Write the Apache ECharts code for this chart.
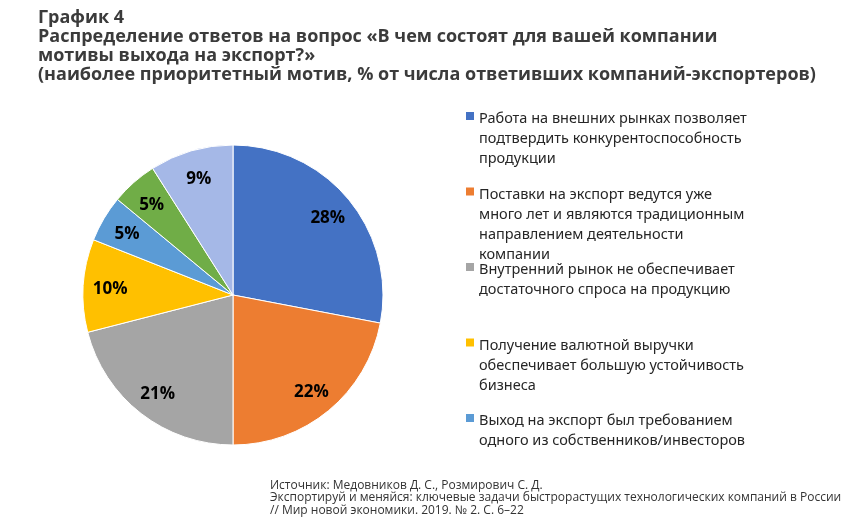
<!DOCTYPE html>
<html>
<head>
<meta charset="utf-8">
<script src="https://cdn.jsdelivr.net/npm/echarts@6/dist/echarts.min.js"></script>
<style>
  html, body { margin: 0; padding: 0; background: #fff; }
  #chart { width: 850px; height: 523px; }
</style>
</head>
<body>
<div id="chart"></div>
<script>
// shares of companies, %, clockwise from 12 o'clock
const motives = [
  'Работа на внешних рынках позволяет\nподтвердить конкурентоспособность\nпродукции',
  'Поставки на экспорт ведутся уже\nмного лет и являются традиционным\nнаправлением деятельности\nкомпании',
  'Внутренний рынок не обеспечивает\nдостаточного спроса на продукцию',
  'Получение валютной выручки\nобеспечивает большую устойчивость\nбизнеса',
  'Выход на экспорт был требованием\nодного из собственников/инвесторов',
  'Прочий мотив 1',
  'Прочий мотив 2'
];
const shares = [28, 22, 21, 10, 5, 5, 9];
const colors = ['#4472C4', '#ED7D31', '#A5A5A5', '#FFC000', '#5B9BD5', '#70AD47', '#A5B8E7'];
const legendShown = 5; // excel cut the legend after five entries

const titleText = 'График 4\nРаспределение ответов на вопрос «В чем состоят для вашей компании\nмотивы выхода на экспорт?»\n(наиболее приоритетный мотив, % от числа ответивших компаний-экспортеров)';
const sourceText = 'Источник: Медовников Д. С., Розмирович С. Д.\nЭкспортируй и меняйся: ключевые задачи быстрорастущих технологических компаний в России\n// Мир новой экономики. 2019. № 2. С. 6–22';

const chart = echarts.init(document.getElementById('chart'), null, { renderer: 'canvas' });

const pieData = motives.map((m, i) => ({ name: m, value: shares[i], itemStyle: { color: colors[i] } }));

// legend drawn as graphic so multi-line entries line up like in excel
const legendEls = [];
const slotTop = 110, slotStep = 75.5, lineH = 20;
for (let i = 0; i < legendShown; i++) {
  const y = slotTop + i * slotStep;
  legendEls.push({
    type: 'rect', left: 466, top: y + 2,
    shape: { width: 8, height: 8 },
    style: { fill: colors[i] }
  });
  legendEls.push({
    type: 'text', left: 479, top: y - 1,
    style: {
      text: motives[i],
      font: '14.5px "Noto Sans"',
      lineHeight: lineH,
      fill: '#262626'
    }
  });
}

const option = {
  animation: false,
  title: [
    {
      text: titleText,
      left: 38, top: 8,
      padding: 0,
      textStyle: { fontFamily: 'Open Sans', fontSize: 18, fontWeight: 'bold', lineHeight: 19, color: '#3b3b3b' }
    },
    {
      text: sourceText,
      left: 270, top: 479,
      padding: 0,
      textStyle: { fontFamily: 'Open Sans', fontSize: 12, fontWeight: 'normal', lineHeight: 12.5, color: '#333' }
    }
  ],
  graphic: legendEls,
  series: [
    {
      type: 'pie',
      center: [233, 295],
      radius: [0, 150],
      startAngle: 90,
      clockwise: true,
      data: pieData,
      label: { show: false },
      labelLine: { show: false },
      itemStyle: { borderColor: '#fff', borderWidth: 1 },
      emphasis: { disabled: true }
    },
    {
      // transparent ring only to place labels at ~0.8 of the radius
      type: 'pie',
      center: [233, 297],
      radius: [90, 150],
      startAngle: 90,
      clockwise: true,
      silent: true,
      data: pieData.map(d => ({ name: d.name, value: d.value })),
      itemStyle: { color: 'rgba(0,0,0,0)' },
      label: {
        show: true,
        position: 'inside',
        formatter: '{c}%',
        fontFamily: 'Open Sans',
        fontSize: 17,
        fontWeight: 'bold',
        color: '#000'
      },
      labelLine: { show: false },
      emphasis: { disabled: true }
    }
  ]
};

chart.setOption(option);
window.addEventListener('resize', () => chart.resize());
</script>
</body>
</html>
